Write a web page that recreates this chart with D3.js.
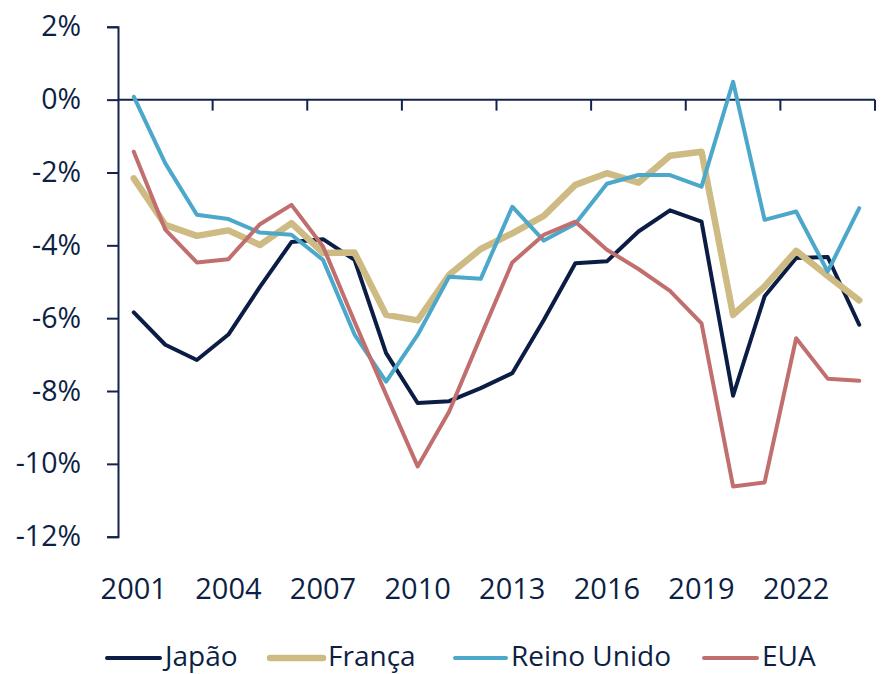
<!DOCTYPE html>
<html>
<head>
<meta charset="utf-8">
<script src="https://cdn.jsdelivr.net/npm/d3@7"></script>
<style>
  html, body { margin: 0; padding: 0; background: #ffffff; }
  svg { display: block; }
  text { font-family: "Open Sans", "Noto Sans", sans-serif; fill: #0d1f45; }
</style>
</head>
<body>
<svg id="chart" width="888" height="674"></svg>
<script>
const years = d3.range(2001, 2025);
const yTicks = [-12, -10, -8, -6, -4, -2, 0, 2];

const japao = [-5.84, -6.73, -7.15, -6.45, -5.14, -3.91, -3.83, -4.40, -6.96, -8.33, -8.28, -7.92,
               -7.51, -6.05, -4.49, -4.44, -3.62, -3.04, -3.35, -8.13, -5.40, -4.35, -4.32, -6.18];
const franca = [-2.16, -3.44, -3.74, -3.59, -3.99, -3.39, -4.21, -4.20, -5.91, -6.06, -4.81, -4.10,
                -3.67, -3.19, -2.34, -2.02, -2.28, -1.54, -1.43, -5.91, -5.13, -4.15, -4.84, -5.51];
const reinoUnido = [0.08, -1.75, -3.16, -3.28, -3.65, -3.71, -4.40, -6.45, -7.74, -6.46, -4.86, -4.92,
                    -2.94, -3.87, -3.41, -2.31, -2.07, -2.07, -2.39, 0.49, -3.30, -3.07, -4.72, -2.98];
const eua = [-1.43, -3.57, -4.47, -4.38, -3.42, -2.89, -4.03, -6.10, -8.10, -10.07, -8.56, -6.50,
             -4.47, -3.71, -3.35, -4.12, -4.65, -5.25, -6.14, -10.62, -10.51, -6.55, -7.66, -7.72];

const seriesNames = ["Japão", "França", "Reino Unido", "EUA"];
const seriesColors = ["#0b1d45", "#cdbb83", "#4ba8cb", "#c06f6e"];
const seriesWidths = [4, 6.5, 4, 4];
const seriesValues = [japao, franca, reinoUnido, eua];

const svg = d3.select("#chart");
const axisColor = "#13234d";

const x = d3.scaleBand().domain(years).range([118, 875]).padding(0);
const y = d3.scaleLinear().domain([-12, 2]).range([536.7, 26.8]);
const cx = yr => x(yr) + x.bandwidth() / 2;

// Y axis
const yAxis = d3.axisLeft(y)
  .tickValues(yTicks)
  .tickSize(11)
  .tickSizeOuter(11)
  .tickPadding(26)
  .tickFormat(d => d + "%");
const gy = svg.append("g").attr("transform", "translate(118,0)").call(yAxis);
gy.selectAll("path, line").attr("stroke", axisColor).attr("stroke-width", 2);
gy.selectAll("text").attr("font-size", 28.5).attr("fill", "#0d1f45")
  .style("font-family", '"Open Sans", "Noto Sans", sans-serif');

// X axis at zero
const gx = svg.append("g");
gx.append("line")
  .attr("x1", x.range()[0]).attr("x2", x.range()[1])
  .attr("y1", y(0)).attr("y2", y(0))
  .attr("stroke", axisColor).attr("stroke-width", 2);
const tickBounds = years.filter((d, i) => i % 3 === 0).map(d => x(d)).concat([x.range()[1]]);
gx.selectAll("line.tick").data(tickBounds.slice(1)).enter().append("line")
  .attr("class", "tick")
  .attr("x1", d => d).attr("x2", d => d)
  .attr("y1", y(0)).attr("y2", y(0) + 11)
  .attr("stroke", axisColor).attr("stroke-width", 2);
gx.selectAll("text").data(years.filter((d, i) => i % 3 === 0)).enter().append("text")
  .attr("x", d => cx(d)).attr("y", 599)
  .attr("text-anchor", "middle")
  .attr("font-size", 29)
  .text(d => d);

// Lines
const line = d3.line().x((d, i) => cx(years[i])).y(d => y(d));
seriesValues.forEach((vals, k) => {
  svg.append("path")
    .datum(vals)
    .attr("d", line)
    .attr("fill", "none")
    .attr("stroke", seriesColors[k])
    .attr("stroke-width", seriesWidths[k])
    .attr("stroke-linejoin", "round")
    .attr("stroke-linecap", "round");
});

// Legend
const legendY = 658;
const legendStarts = [107, 270, 455, 704];
seriesNames.forEach((name, k) => {
  const g = svg.append("g").attr("transform", `translate(${legendStarts[k]},${legendY})`);
  const len = k === 2 ? 51 : 53;
  g.append("line").attr("x1", 0).attr("x2", len).attr("y1", 0).attr("y2", 0)
    .attr("stroke", seriesColors[k]).attr("stroke-width", seriesWidths[k])
    .attr("stroke-linecap", "round");
  g.append("text").attr("x", len + 5).attr("y", 8).attr("font-size", 28).text(name);
});
</script>
</body>
</html>
